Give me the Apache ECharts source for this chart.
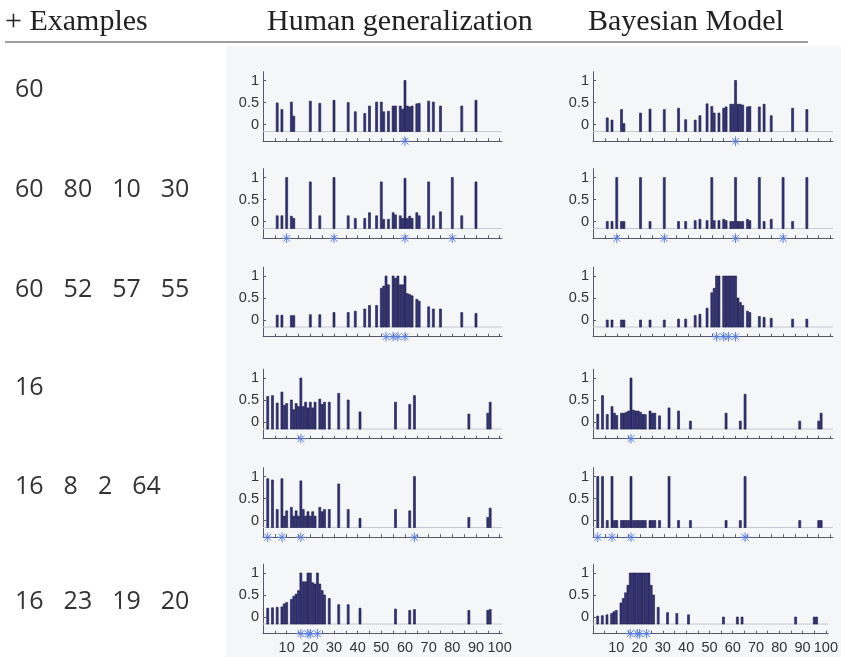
<!DOCTYPE html>
<html><head><meta charset="utf-8">
<script src="https://cdn.jsdelivr.net/npm/echarts@6/dist/echarts.min.js"></script>
<style>html,body{margin:0;padding:0;background:#fff}#c{width:841px;height:657px}</style>
</head><body><div id="c"></div>
<script>
// ---------- data ----------
const examples1 = [60];
const probes1 = [6,8,12,13,20,24,30,36,39,43,45,48,50,51,53,55,56,58,59,60,61,62,63,65,66,70,72,75,84,90];
const human1 = [0.49,0.34,0.51,0.19,0.53,0.48,0.55,0.5,0.29,0.25,0.42,0.51,0.51,0.29,0.3,0.42,0.42,0.42,0.35,1.0,0.42,0.4,0.42,0.47,0.48,0.53,0.51,0.42,0.42,0.55];
const model1 = [0.15,0.1,0.34,0.02,0.26,0.35,0.34,0.37,0.11,0.1,0.2,0.47,0.41,0.26,0.26,0.37,0.4,0.46,0.46,1.0,0.46,0.46,0.44,0.4,0.41,0.4,0.46,0.2,0.37,0.34];

const examples2 = [60,80,10,30];
const probes2 = [6,8,10,12,13,20,24,30,36,39,43,45,48,50,51,53,55,56,58,59,60,61,62,63,65,66,70,72,75,80,84,90];
const human2 = [0.13,0.13,1.0,0.12,0.07,0.9,0.13,1.0,0.13,0.07,0.07,0.2,0.13,0.9,0.05,0.05,0.2,0.15,0.13,0.07,0.98,0.07,0.12,0.07,0.2,0.13,0.9,0.13,0.22,1.0,0.13,0.9];
const model2 = [0,0,1,0,0,1,0,1,0,0,0.02,0.05,0.02,1,0.02,0.02,0.05,0.02,0,0,1,0,0,0,0.05,0.02,1,0,0.05,1,0,1];

const examples3 = [60,52,57,55];
const probes3 = [6,8,12,13,20,24,30,36,39,43,45,48,50,51,52,53,55,56,57,58,59,60,61,62,63,65,66,70,72,75,84,90];
const human3 = [0.11,0.11,0.1,0.1,0.12,0.12,0.17,0.17,0.2,0.25,0.33,0.33,0.72,0.77,1.0,0.8,1.0,0.95,1.0,0.8,0.8,1.0,0.6,0.58,0.55,0.47,0.43,0.3,0.25,0.25,0.17,0.15];
const model3 = [0,0,0,0,0,0,0,0.02,0.02,0.1,0.13,0.27,0.62,0.72,1,1,1,1,1,1,1,1,0.5,0.4,0.33,0.2,0.17,0.08,0.06,0.04,0.02,0.02];

const examples4 = [16];
const probes4 = [2,4,6,8,9,10,12,13,14,15,16,17,18,19,20,21,22,24,25,26,28,32,36,41,56,62,64,87,95,96];
const human4 = [0.58,0.6,0.43,0.68,0.38,0.42,0.5,0.28,0.42,0.35,1.0,0.35,0.45,0.32,0.45,0.32,0.45,0.52,0.4,0.45,0.45,0.65,0.5,0.23,0.45,0.4,0.6,0.18,0.2,0.45];
const model4 = [0.18,0.6,0.17,0.35,0.2,0.15,0.2,0.2,0.22,0.25,1.0,0.27,0.25,0.25,0.22,0.17,0.17,0.25,0.2,0.2,0.14,0.32,0.25,0.02,0.2,0.02,0.63,0.02,0.02,0.2];

const examples5 = [16,8,2,64];
const probes5 = [2,4,6,8,9,10,12,13,14,15,16,17,18,19,20,21,22,24,25,26,28,32,36,41,56,62,64,87,95,96];
const human5 = [0.95,0.92,0.25,0.95,0.1,0.22,0.3,0.1,0.22,0.1,0.9,0.25,0.1,0.2,0.1,0.2,0.1,0.3,0.2,0.25,0.25,0.83,0.25,0.05,0.25,0.22,1.0,0.07,0.07,0.28];
const model5 = [1,1,0,1,0,0,0,0,0,0,1,0,0,0,0,0,0,0,0,0,0,1,0,0,0,0,1,0,0,0];

const examples6 = [16,23,19,20];
const probes6 = [2,4,6,8,9,10,12,13,14,15,16,17,18,19,20,21,22,23,24,25,26,28,32,36,41,56,62,64,87,95,96];
const human6 = [0.2,0.21,0.22,0.23,0.3,0.33,0.4,0.47,0.52,0.6,1.0,0.8,0.8,1.0,1.0,0.78,0.75,1.0,0.75,0.6,0.5,0.42,0.28,0.28,0.2,0.18,0.15,0.17,0.15,0.15,0.17];
const model6 = [0.02,0.03,0.05,0.08,0.12,0.15,0.32,0.42,0.55,0.72,1,1,1,1,1,1,1,1,1,0.72,0.5,0.22,0.1,0.08,0.05,0,0,0,0,0,0];

const xTicks = [5,10,15,20,25,30,35,40,45,50,55,60,65,70,75,80,85,90,95,100];
const xLabels = [10,20,30,40,50,60,70,80,90,100];
const yTicks = [0,0.5,1];
const headers = ['+ Examples','Human generalization','Bayesian Model'];

const rows = [
  {ex: examples1, p: probes1, h: human1, m: model1},
  {ex: examples2, p: probes2, h: human2, m: model2},
  {ex: examples3, p: probes3, h: human3, m: model3},
  {ex: examples4, p: probes4, h: human4, m: model4},
  {ex: examples5, p: probes5, h: human5, m: model5},
  {ex: examples6, p: probes6, h: human6, m: model6}
];

// ---------- layout ----------
const X_MIN = 0, X_MAX = 101, Y_MIN = -0.38, Y_MAX = 1.2, BASE = -0.16;
const PX_PER_UNIT = 44;
const rowZero = [124.5, 221.5, 320, 422, 520.5, 617];
const rowLabelY = [90, 190, 290, 388, 487, 602];
const colLeft = [263, 593], colWidth = [239, 240];
const BAR_FILL = '#33337a', BAR_EDGE = '#191944', STAR = '#5a7fe0', AXIS = '#55596a';

const grids = [], xAxes = [], yAxes = [], series = [];
rows.forEach((r, ri) => {
  [r.h, r.m].forEach((vals, ci) => {
    const idx = grids.length;
    grids.push({left: colLeft[ci], width: colWidth[ci], top: rowZero[ri] - Y_MAX * PX_PER_UNIT, height: (Y_MAX - Y_MIN) * PX_PER_UNIT});
    const last = ri === rows.length - 1;
    xAxes.push({
      gridIndex: idx, type: 'value', min: X_MIN, max: X_MAX,
      axisLine: {onZero: false, lineStyle: {color: AXIS, width: 1}},
      axisTick: {show: true, inside: true, length: 3, customValues: xTicks, lineStyle: {color: AXIS}},
      axisLabel: {show: last, customValues: xLabels, color: '#333', fontSize: 14.5, fontFamily: 'Liberation Sans', margin: 7},
      splitLine: {show: false}
    });
    yAxes.push({
      gridIndex: idx, type: 'value', min: Y_MIN, max: Y_MAX,
      axisLine: {show: true, onZero: false, lineStyle: {color: AXIS, width: 1}},
      axisTick: {show: true, inside: true, length: 3, customValues: yTicks, lineStyle: {color: AXIS}},
      axisLabel: {customValues: yTicks, color: '#333', fontSize: 14.5, fontFamily: 'Liberation Sans', margin: 4},
      splitLine: {show: false}
    });
    series.push({
      type: 'line', xAxisIndex: idx, yAxisIndex: idx, silent: true, showSymbol: false, z: 1,
      data: [[X_MIN, BASE], [X_MAX, BASE]], lineStyle: {color: '#c6c9d2', width: 1}
    });
    series.push({
      type: 'custom', xAxisIndex: idx, yAxisIndex: idx, z: 3, silent: true,
      data: r.p.map((x, i) => [x, vals[i]]),
      encode: {x: 0, y: 1},
      renderItem: (params, api) => {
        const x = api.value(0), v = api.value(1);
        const top = api.coord([x, v]), bot = api.coord([x, BASE]);
        const w = api.size([0.85, 0])[0];
        return {type: 'rect', shape: {x: top[0] - w / 2, y: top[1], width: w, height: bot[1] - top[1]},
          style: {fill: BAR_FILL, stroke: BAR_EDGE, lineWidth: 0.6}};
      }
    });
    series.push({
      type: 'custom', xAxisIndex: idx, yAxisIndex: idx, z: 4, silent: true,
      data: r.ex.map(x => [x, Y_MIN]),
      encode: {x: 0, y: 1},
      renderItem: (params, api) => {
        const p = api.coord([api.value(0), api.value(1)]);
        const rr = 4.8, kids = [];
        for (let k = 0; k < 4; k++) {
          const a = k * Math.PI / 4;
          kids.push({type: 'line', shape: {x1: p[0] - rr * Math.cos(a), y1: p[1] - rr * Math.sin(a), x2: p[0] + rr * Math.cos(a), y2: p[1] + rr * Math.sin(a)},
            style: {stroke: STAR, lineWidth: 1}});
        }
        return {type: 'group', children: kids};
      }
    });
  });
});

// ---------- graphics ----------
const HFONT = '30px "Liberation Serif"';
const graphics = [
  {type: 'rect', z: -100, shape: {x: 226, y: 46, width: 615, height: 611}, style: {fill: '#f5f6f8'}},
  {type: 'line', shape: {x1: 5, y1: 42, x2: 808, y2: 42}, style: {stroke: '#7d7d7d', lineWidth: 1.5}},
  {type: 'text', x: 5, y: 22, style: {text: headers[0], font: HFONT, fill: '#222', textVerticalAlign: 'middle'}},
  {type: 'text', x: 267, y: 22, style: {text: headers[1], font: HFONT, fill: '#222', textVerticalAlign: 'middle'}},
  {type: 'text', x: 588, y: 22, style: {text: headers[2], font: HFONT, fill: '#222', textVerticalAlign: 'middle'}}
];
rows.forEach((r, ri) => {
  graphics.push({type: 'text', x: 15, y: rowLabelY[ri], style: {
    text: r.ex.map(v => '{n|' + v + '}').join('{g|}'),
    rich: {n: {font: '25px "Open Sans"', fill: '#333'}, g: {width: 20}},
    textVerticalAlign: 'middle'
  }});
});

const chart = echarts.init(document.getElementById('c'));
chart.setOption({
  animation: false,
  backgroundColor: '#fff',
  grid: grids, xAxis: xAxes, yAxis: yAxes, series: series,
  graphic: {elements: graphics}
});
</script></body></html>
